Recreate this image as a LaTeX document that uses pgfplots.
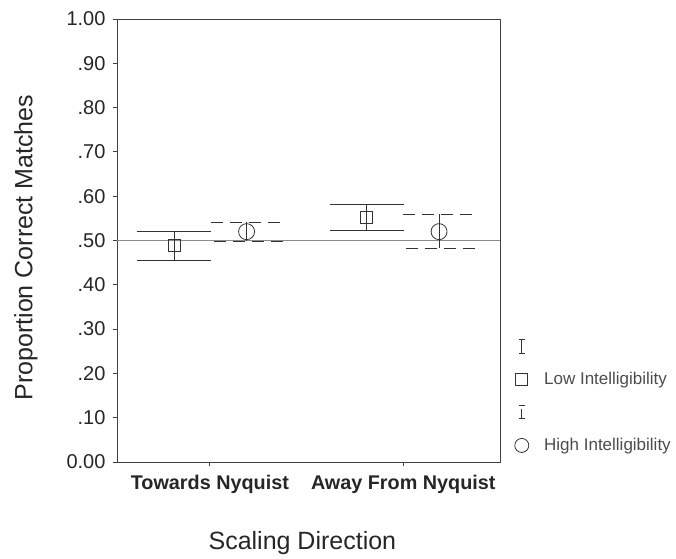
\documentclass[border=0pt]{standalone}
\usepackage{fontspec}
\setmainfont{Liberation Sans}
\usepackage{pgfplots}
\pgfplotsset{compat=1.18}

\begin{document}
\begin{tikzpicture}
\path[use as bounding box] (0,0) rectangle (676bp,559bp);
\begin{axis}[
  at={(117bp,97bp)}, anchor=south west,
  width=383bp, height=443bp, scale only axis,
  xmin=0.52, xmax=2.5, ymin=0, ymax=1,
  xtick={1,2}, xticklabels={Towards Nyquist, Away From Nyquist},
  ytick={0,0.1,0.2,0.3,0.4,0.5,0.6,0.7,0.8,0.9,1},
  yticklabels={0.00,.10,.20,.30,.40,.50,.60,.70,.80,.90,1.00},
  xtick pos=bottom, ytick pos=left, tick align=outside,
  major tick length=4bp,
  axis line style={color=black!75, line width=0.8bp},
  tick style={black!75, line width=0.8bp},
  yticklabel style={font=\fontsize{20bp}{23bp}\selectfont, color=black!85, xshift=-4bp},
  xticklabel style={font=\fontsize{19.8bp}{23bp}\selectfont\bfseries, color=black!85, yshift=-6bp},
  ylabel={Proportion Correct Matches}, xlabel={Scaling Direction},
  label style={font=\fontsize{25bp}{29bp}\selectfont, color=black!85},
  ylabel style={at={(axis description cs:-0.2376,0.484)}, anchor=center},
  xlabel style={at={(axis description cs:0.484,-0.183)}, anchor=center},
  legend style={at={(axis description cs:1.037,0.286)}, anchor=north west,
    draw=none, fill=none, inner sep=0pt, row sep=11bp, column sep=13bp,
    font=\fontsize{17bp}{20bp}\selectfont,
    nodes={text height=14bp, text depth=4bp, text=black!70}},
  legend cell align=left,
]
% reference line at chance level
\addplot[forget plot, black!45, line width=1bp] coordinates {(0.52,0.5) (2.5,0.5)};

% low intelligibility: 95% CI with solid caps
\addplot[forget plot, black!80, line width=0.8bp, only marks, mark=square,
  mark size=6bp, mark options={fill=white},
  error bars/.cd, y dir=both, y explicit,
  error bar style={line width=0.8bp, black!80},
  error mark options={rotate=90, mark size=37bp, line width=0.8bp, black!80}]
  coordinates {
    (0.815,0.488) += (0,0.033) -= (0,0.032)
    (1.81,0.552)  += (0,0.030) -= (0,0.030)
  };

% high intelligibility: 95% CI with dashed caps
\addplot[forget plot, black!80, line width=0.8bp, only marks, mark=o,
  mark size=8bp,
  error bars/.cd, y dir=both, y explicit,
  error bar style={line width=0.8bp, black!80},
  error mark options={rotate=90, mark size=36bp, line width=0.8bp, black!80,
    dash pattern=on 12bp off 7bp}]
  coordinates {
    (1.19,0.520)  += (0,0.021) -= (0,0.022)
    (2.185,0.520) += (0,0.039) -= (0,0.038)
  };

\addlegendimage{legend image code/.code={
  \draw[black!80, line width=0.8bp] (3bp,-7bp)--(9bp,-7bp) (6bp,-7bp)--(6bp,7bp) (3bp,7bp)--(9bp,7bp);}}
\addlegendentry{}
\addlegendimage{legend image code/.code={
  \draw[black!80, line width=0.8bp] (0bp,-6bp) rectangle (12bp,6bp);}}
\addlegendentry{Low Intelligibility}
\addlegendimage{legend image code/.code={
  \draw[black!80, line width=0.8bp] (3bp,7bp)--(9bp,7bp) (6bp,3bp)--(6bp,-6bp) (3bp,-6bp)--(9bp,-6bp);}}
\addlegendentry{}
\addlegendimage{legend image code/.code={
  \draw[black!80, line width=0.8bp] (6bp,0bp) circle (7bp);}}
\addlegendentry{High Intelligibility}
\end{axis}
\end{tikzpicture}
\end{document}
